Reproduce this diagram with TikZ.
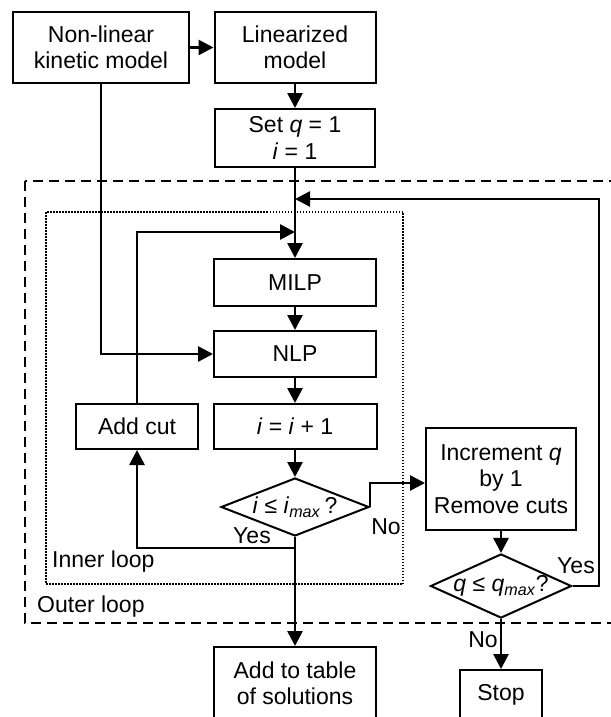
\documentclass[tikz,border=0pt]{standalone}
\usepackage{fontspec}
\setmainfont{Liberation Sans}
\usetikzlibrary{arrows.meta,shapes.geometric}
\begin{document}
\begin{tikzpicture}[x=1pt,y=1pt,
  txt/.style={font=\fontsize{23}{26.5}\selectfont},
  box/.style={draw,line width=2pt,inner sep=0pt,align=center,txt},
  dia/.style={draw,diamond,line width=2pt,inner sep=0pt,txt},
  arr/.style={line width=2.7pt,-{Triangle[length=15pt,width=15pt]}},
  ln/.style={line width=2.7pt},
  lbl/.style={inner sep=0pt,txt},
  outerbox/.style={line width=1.7pt,dash pattern=on 10pt off 6pt},
  innerbox/.style={line width=1.4pt,dash pattern=on 1.5pt off 1.5pt}]
\useasboundingbox (0,0) rectangle (610,-717);

% loops
\draw[outerbox] (25,-181) rectangle (640,-623);
\draw[innerbox] (46,-212) rectangle (403,-584);
\node[lbl,anchor=west] (inner) at (52,-562) {Inner loop};
\node[lbl,anchor=west] (outer) at (37,-607) {Outer loop};

% nodes
\node[box,minimum width=176,minimum height=71] (nl) at (101,-47.5) {Non-linear\\kinetic model};
\node[box,minimum width=161,minimum height=71] (lin) at (295,-47.5) {Linearized\\model};
\node[box,minimum width=160,minimum height=58] (setq) at (295,-138) {Set \textit{q} = 1\\\textit{i} = 1};
\node[box,minimum width=162,minimum height=47] (milp) at (295,-282.5) {MILP};
\node[box,minimum width=162,minimum height=46] (nlp) at (295,-354) {NLP};
\node[box,minimum width=122,minimum height=45] (addcut) at (137,-426.5) {Add cut};
\node[box,minimum width=163,minimum height=45] (inc) at (295,-426.5) {\textit{i} = \textit{i} + 1};
\node[dia,minimum width=148,minimum height=58,aspect=2.55] (dia1) at (295,-507) {\textit{i} ≤ \textit{i}\textsubscript{\textit{max}}\,?};
\node[box,minimum width=150,minimum height=102] (incq) at (501,-479) {Increment \textit{q}\\by 1\\Remove cuts};
\node[dia,minimum width=139,minimum height=63,aspect=2.2] (dia2) at (501,-586) {\textit{q} ≤ \textit{q}\textsubscript{\textit{max}}?};
\node[box,minimum width=162,minimum height=73] (table) at (295,-683.5) {Add to table\\of solutions};
\node[box,minimum width=82,minimum height=50] (stop) at (501,-695) {Stop};

% helper coordinates
\coordinate (j1) at (295,-199);
\coordinate (j2) at (295,-232);
\coordinate (fb) at (599,-199);
\coordinate (yesj) at (295,-548);

% connectors
\draw[arr] (nl.east) -- (lin.west);
\draw[arr] (lin.south) -- (setq.north);
\draw[arr] (setq.south) -- (milp.north);
\draw[arr] (milp.south) -- (nlp.north);
\draw[arr] (nl.south) |- (nlp.west);
\draw[arr] (nlp.south) -- (inc.north);
\draw[arr] (inc.south) -- (dia1.north);
\draw[arr] (dia1.east) |- ([yshift=-4pt]incq.west);
\draw[arr] (dia1.south) -- (table.north);
\draw[arr] (yesj) -| (addcut.south);
\draw[arr] (addcut.north) |- (j2);
\draw[arr] (incq.south) -- (dia2.north);
\draw[arr] (dia2.east) -| (fb) -- (j1);
\draw[arr] (dia2.south) -- (stop.north);

% labels
\node[lbl] (yes1) at (252,-536) {Yes};
\node[lbl] (no1) at (386,-527) {No};
\node[lbl] (yes2) at (576,-566) {Yes};
\node[lbl] (no2) at (483,-640) {No};
\end{tikzpicture}
\end{document}
